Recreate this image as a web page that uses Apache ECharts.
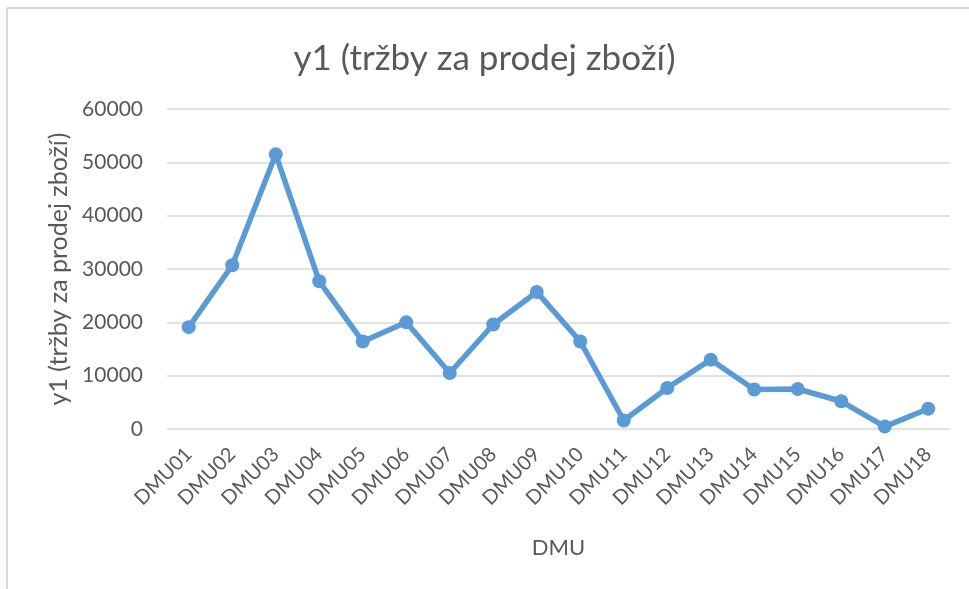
<!DOCTYPE html>
<html>
<head>
<meta charset="utf-8">
<script src="https://cdn.jsdelivr.net/npm/echarts@6/dist/echarts.min.js"></script>
<style>
html,body{margin:0;padding:0;background:#fff;}
#c{width:969px;height:589px;}
</style>
</head>
<body>
<div id="c"></div>
<script>
const categories = ["DMU01","DMU02","DMU03","DMU04","DMU05","DMU06","DMU07","DMU08","DMU09","DMU10","DMU11","DMU12","DMU13","DMU14","DMU15","DMU16","DMU17","DMU18"];
const y1Values = [19100, 30700, 51500, 27700, 16400, 20000, 10500, 19600, 25700, 16400, 1600, 7700, 13000, 7400, 7500, 5200, 450, 3800];
const yTicks = { min: 0, max: 60000, interval: 10000 };
const titleText = "y1 (tržby za prodej zboží)";
const yName = "y1 (tržby za prodej zboží)";
const xName = "DMU";

const font = "Lato, 'Open Sans', sans-serif";
const chart = echarts.init(document.getElementById('c'), null, {renderer: 'canvas'});
chart.setOption({
  backgroundColor: '#fff',
  animation: false,
  title: {
    text: titleText,
    left: 'center',
    top: 36,
    textStyle: { fontFamily: font, fontSize: 35, fontWeight: 'normal', color: '#595959' }
  },
  graphic: [
    { type: 'line', shape: { x1: 7, y1: 8, x2: 969, y2: 8 }, style: { stroke: '#d9d9d9', lineWidth: 2 } },
    { type: 'line', shape: { x1: 7, y1: 8, x2: 7, y2: 589 }, style: { stroke: '#d9d9d9', lineWidth: 2 } }
  ],
  grid: { left: 167, right: 19, top: 109, bottom: 160 },
  xAxis: {
    type: 'category',
    data: categories,
    boundaryGap: true,
    name: xName,
    nameLocation: 'middle',
    nameGap: 108,
    nameTextStyle: { fontFamily: font, fontSize: 22, color: '#595959' },
    axisLine: { show: false },
    axisTick: { show: false },
    axisLabel: { rotate: 45, fontFamily: font, fontSize: 20, color: '#595959', margin: 22, interval: 0 }
  },
  yAxis: {
    type: 'value',
    min: yTicks.min,
    max: yTicks.max,
    interval: yTicks.interval,
    name: yName,
    nameLocation: 'middle',
    nameGap: 92,
    nameTextStyle: { fontFamily: font, fontSize: 25, color: '#595959' },
    axisLine: { show: false },
    axisTick: { show: false },
    axisLabel: { fontFamily: font, fontSize: 21, color: '#595959', margin: 24, formatter: function (v) { return String(v); } },
    splitLine: { lineStyle: { color: '#d9d9d9', width: 1.5 } }
  },
  series: [{
    type: 'line',
    data: y1Values,
    symbol: 'circle',
    symbolSize: 14,
    lineStyle: { color: '#5b9bd5', width: 5.5 },
    itemStyle: { color: '#5b9bd5' }
  }]
});
</script>
</body>
</html>
